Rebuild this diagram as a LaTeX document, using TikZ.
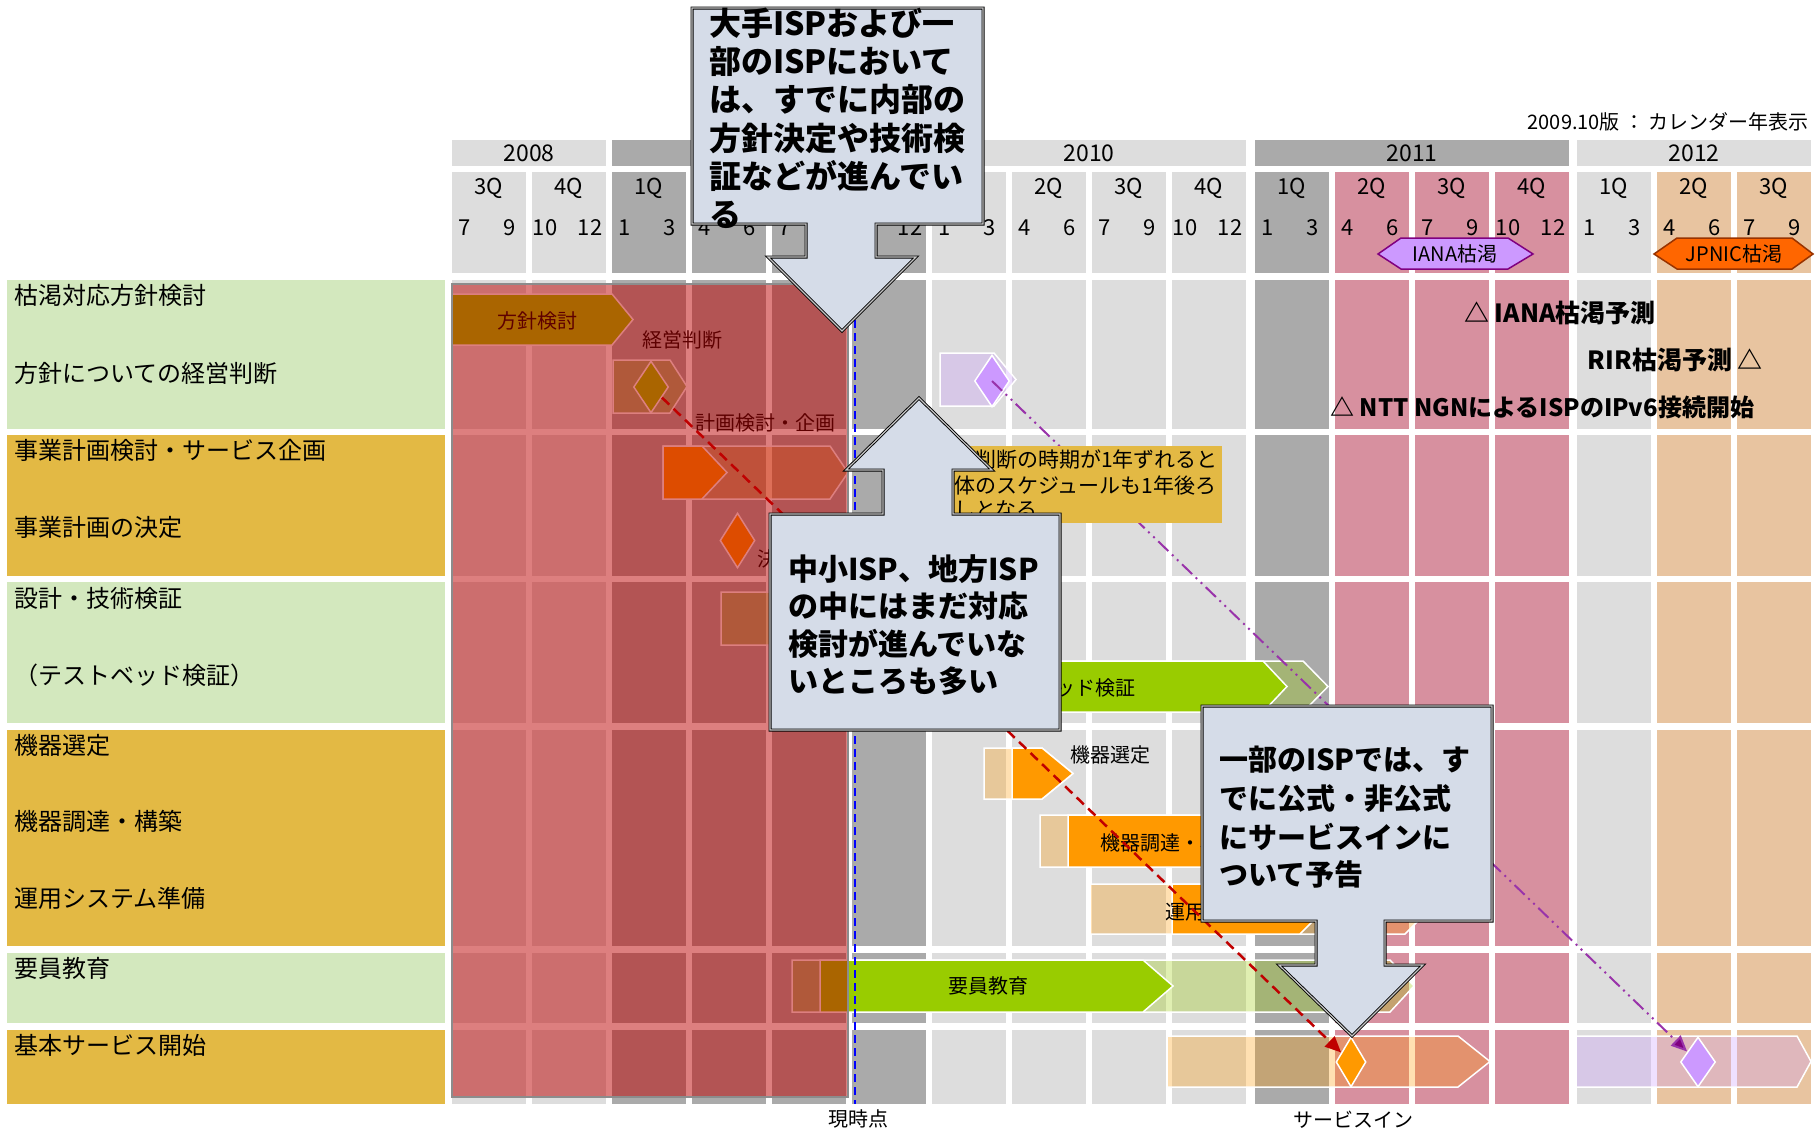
\documentclass[tikz,border=0pt]{standalone}
\usepackage{fontspec}
\setmainfont{Noto Sans CJK JP}
\usetikzlibrary{shapes.geometric,arrows.meta}
\definecolor{lg}{HTML}{DDDDDD}
\definecolor{dg}{HTML}{AAAAAA}
\definecolor{pk}{HTML}{D7909F}
\definecolor{pc}{HTML}{E8C4A0}
\definecolor{lblg}{HTML}{D3E8BE}
\definecolor{lbla}{HTML}{E3B944}
\definecolor{gr}{HTML}{99CC00}
\definecolor{orn}{HTML}{FF9900}
\definecolor{pur}{HTML}{CC99FF}
\definecolor{ovc}{RGB}{188,0,0}
\definecolor{cfill}{HTML}{D5DCE8}
\definecolor{redl}{HTML}{C00000}
\definecolor{purl}{HTML}{9933AA}
\definecolor{purd}{HTML}{800080}
\definecolor{jpo}{HTML}{FF6600}
\definecolor{jpb}{HTML}{993300}
\definecolor{bluel}{HTML}{0000FF}
\newcommand\bararrow[6]{\path[#6] (#1,#4) -- (#2,#4) -- (#3,{(#4+#5)/2}) -- (#2,#5) -- (#1,#5) -- cycle;}
\begin{document}
\begin{tikzpicture}[x=1pt,y=-1pt,
  hdr/.style={font=\fontsize{22}{26}\selectfont, inner sep=0pt},
  yr/.style={font=\fontsize{23}{26}\selectfont, inner sep=0pt},
  rowlbl/.style={font=\fontsize{24}{28}\selectfont, inner sep=0pt, anchor=west},
  barlbl/.style={font=\fontsize{20}{24}\selectfont, inner sep=0pt},
  notef/.style={font=\fontsize{21}{24}\selectfont, inner sep=0pt, anchor=west},
  trilbl/.style={font=\fontsize{25}{28}\selectfont\bfseries, inner sep=0pt},
  calA/.style={font=\fontsize{32}{38}\selectfont\bfseries, inner sep=0pt, anchor=west},
  calB/.style={font=\fontsize{30}{36}\selectfont\bfseries, inner sep=0pt, anchor=west},
  calC/.style={font=\fontsize{29}{35}\selectfont\bfseries, inner sep=0pt, anchor=west},
  solidg/.style={fill=gr, draw=white, line width=1.5pt},
  solido/.style={fill=orn, draw=white, line width=1.5pt},
  plang/.style={fill=gr, fill opacity=0.3, draw=white, line width=1.5pt},
  plano/.style={fill=orn, fill opacity=0.3, draw=white, line width=1.5pt},
  planp/.style={fill=pur, fill opacity=0.3, draw=white, line width=1.5pt},
  dia/.style={diamond, inner sep=0pt, draw=white, line width=1.5pt},
  calloutbox/.style={fill=cfill, draw=black, line width=0.9pt, double=gray!45, double distance=1.2pt},
]
\useasboundingbox (0,0) rectangle (1817,1130);
\fill[white] (0,0) rectangle (1817,1130);

% ---- year header
\fill[lg] (452,140) rectangle (606,166);
\fill[dg] (612,140) rectangle (926,166);
\fill[lg] (932,140) rectangle (1246,166);
\fill[dg] (1255,140) rectangle (1569,166);
\fill[lg] (1577,140) rectangle (1811,166);
\node[yr] (y08) at (529,153) {2008};
\node[yr] (y10) at (1089,153) {2010};
\node[yr] (y11) at (1412,153) {2011};
\node[yr] (y12) at (1694,153) {2012};

% ---- quarter columns and body grid
\foreach \xx/\cc in {452/lg, 532/lg, 612/dg, 692/dg, 772/dg, 852/dg, 932/lg, 1012/lg, 1092/lg, 1172/lg, 1255/dg, 1335/pk, 1415/pk, 1495/pk, 1577/lg, 1657/pc, 1737/pc} {
  \fill[fill=\cc] (\xx,172) rectangle (\xx+74,273);
  \foreach \ya/\yb in {280/429,435/576,582/723,730/946,953/1023,1030/1104}
    \fill[fill=\cc] (\xx,\ya) rectangle (\xx+74,\yb);
}
% quarter names (those not hidden by the top callout)
\foreach \xx/\qq in {452/3Q, 532/4Q, 612/1Q, 932/1Q, 1012/2Q, 1092/3Q, 1172/4Q, 1255/1Q, 1335/2Q, 1415/3Q, 1495/4Q, 1577/1Q, 1657/2Q, 1737/3Q}
  \node[hdr] (q\xx) at (\xx+37,188) {\qq};
% first month of each quarter
\foreach \xx/\ma in {452/7, 532/10, 612/1, 692/4, 772/7, 932/1, 1012/4, 1092/7, 1172/10, 1255/1, 1335/4, 1415/7, 1495/10, 1577/1, 1657/4, 1737/7}
  \node[hdr] (ma\xx) at (\xx+13,228) {\ma};
% last month of each quarter
\foreach \xx/\mb in {452/9, 532/12, 612/3, 692/6, 852/12, 932/3, 1012/6, 1092/9, 1172/12, 1255/3, 1335/6, 1415/9, 1495/12, 1577/3, 1657/6, 1737/9}
  \node[hdr] (mb\xx) at (\xx+58,228) {\mb};

% ---- row label boxes
\fill[lblg] (7,280) rectangle (445,429);
\fill[lbla] (7,435) rectangle (445,576);
\fill[lblg] (7,582) rectangle (445,723);
\fill[lbla] (7,730) rectangle (445,946);
\fill[lblg] (7,953) rectangle (445,1023);
\fill[lbla] (7,1030) rectangle (445,1104);
\foreach \yy/\tt [count=\k] in {295/枯渇対応方針検討, 373/方針についての経営判断, 450/事業計画検討・サービス企画, 527/事業計画の決定, 598/設計・技術検証, 675/（テストベッド検証）, 745/機器選定, 821/機器調達・構築, 898/運用システム準備, 968/要員教育, 1045/基本サービス開始}
  \node[rowlbl] (rl\k) at (14,\yy) {\tt};

% ---- bars
% row 1
\bararrow{452}{612}{633}{294}{345}{solidg}
\bararrow{613}{670}{687}{360}{413}{plang}
\node[dia, fill=gr, minimum width=35pt, minimum height=52pt] (kd) at (651,387) {};
\bararrow{940}{994}{1016}{353}{406}{planp}
\node[dia, fill=pur, minimum width=35pt, minimum height=52pt] (pd1) at (992,381) {};
% row 2
\bararrow{663}{830}{848}{446}{499}{plano}
\bararrow{663}{702}{727}{446}{499}{solido}
\node[dia, fill=orn, minimum width=35pt, minimum height=55pt] (dd) at (737.5,540.5) {};
% row 3
\bararrow{721}{1000}{1020}{592}{645}{plang}
\bararrow{1000}{1303}{1328}{661}{712}{plang}
\bararrow{849}{1263}{1287}{661}{712}{solidg}
% row 4
\bararrow{984}{1042}{1073}{748}{799}{plano}
\bararrow{1012}{1042}{1073}{748}{799}{solido}
\bararrow{1040}{1330}{1355}{815}{867}{plano}
\bararrow{1068}{1240}{1265}{815}{867}{solido}
\bararrow{1090}{1405}{1430}{884}{934}{plano}
\bararrow{1172}{1300}{1325}{884}{934}{solido}
% row 5
\bararrow{792}{1390}{1414}{960}{1012}{plang}
\bararrow{820}{1143}{1173}{960}{1012}{solidg}
% row 6
\bararrow{1167}{1458}{1490}{1036}{1087}{plano}
\node[dia, fill=orn, minimum width=30pt, minimum height=50pt] (od) at (1351,1062) {};
\bararrow{1576}{1797}{1811}{1036}{1087}{planp}
\node[dia, fill=pur, minimum width=35pt, minimum height=50pt] (pd2) at (1698,1062) {};

% labels under the past overlay
\node[barlbl] (l1) at (537,321) {方針検討};
\node[barlbl] (l2) at (682,340) {経営判断};
\node[barlbl] (l3) at (765,423) {計画検討・企画};
\node[barlbl, anchor=west] (l4) at (757,559) {決定};

% ---- past overlay
\path[fill=ovc, fill opacity=0.5, draw=black!45, line width=1.5pt] (452,284) rectangle (848,1097);

% ---- current time line
\coordinate (nowtop) at (855,281);
\coordinate (nowbot) at (855,1104);
\draw[bluel, line width=2pt, dash pattern=on 8pt off 5pt] (nowtop) -- (nowbot);
\node[barlbl] (nowlbl) at (858,1119) {現時点};
\node[barlbl] (svclbl) at (1353,1120) {サービスイン};

% labels on bars
\node[barlbl, anchor=east] (l5) at (1136,688) {テストベッド検証};
\node[barlbl] (l6) at (1110,755) {機器選定};
\node[barlbl, anchor=west] (l7) at (1100,843) {機器調達・構築};
\node[barlbl, anchor=west] (l8) at (1165,912) {運用システム準備};
\node[barlbl] (l9) at (988,986) {要員教育};

% ---- connectors
\draw[redl, line width=2.5pt, dash pattern=on 10pt off 6pt, -{Triangle[length=16pt,width=14pt]}] (kd) -- (od);
\draw[purl, line width=2pt, dash pattern=on 14pt off 5pt on 2pt off 5pt on 2pt off 5pt, -{Triangle[length=16pt,width=14pt,fill=purd]}] (pd1.center) -- (pd2);

% ---- header markers
\path[fill=pur, draw=purd, line width=1.5pt] (1378,254) -- (1401,238) -- (1508,238) -- (1533,254) -- (1508,269) -- (1401,269) -- cycle;
\node[barlbl] (iana) at (1455,254) {IANA枯渇};
\path[fill=jpo, draw=jpb, line width=1.5pt] (1654,254) -- (1677,238) -- (1792,238) -- (1813,254) -- (1792,269) -- (1677,269) -- cycle;
\node[barlbl] (jpnic) at (1734,254) {JPNIC枯渇};
\node[barlbl, anchor=east] (ver) at (1809,122) {2009.10版 ： カレンダー年表示};

% ---- forecast texts
\node[trilbl, anchor=west] (t1) at (1464,313) {△ IANA枯渇予測};
\node[trilbl, anchor=east] (t2) at (1763,360) {RIR枯渇予測 △};
\node[trilbl, anchor=west, font=\fontsize{24}{28}\selectfont\bfseries] (t3) at (1330,407) {△ NTT NGNによるISPのIPv6接続開始};

% ---- note box
\fill[lbla] (928,446) rectangle (1222,523);
\node[notef] (n1) at (933,460) {経営判断の時期が1年ずれると};
\node[notef] (n2) at (933,486) {全体のスケジュールも1年後ろ};
\node[notef] (n3) at (933,510) {倒しとなる};

% ---- callout 1 (down arrow)
\path[calloutbox] (692,8) -- (983,8) -- (983,224) -- (876,224) -- (876,257) -- (916,257) -- (842,331) -- (768,257) -- (806,257) -- (806,224) -- (692,224) -- cycle;
\foreach \tt [count=\k] in {大手ISPおよび一, 部のISPにおいて, は、すでに内部の, 方針決定や技術検, 証などが進んでい, る}
  \node[calA] (ca\k) at (709,{23+38.3*(\k-1)}) {\tt};

% ---- callout 2 (up arrow)
\path[calloutbox] (770,730) -- (770,514) -- (883,514) -- (883,470) -- (846,470) -- (919,398) -- (992,470) -- (953,470) -- (953,514) -- (1060,514) -- (1060,730) -- cycle;
\foreach \tt [count=\k] in {中小ISP、地方ISP, の中にはまだ対応, 検討が進んでいな, いところも多い}
  \node[calB] (cb\k) at (788,{569+37.5*(\k-1)}) {\tt};

% ---- callout 3 (down arrow)
\path[calloutbox] (1202,706) -- (1492,706) -- (1492,921) -- (1385,921) -- (1385,965) -- (1423,965) -- (1352,1036) -- (1279,965) -- (1316,965) -- (1316,921) -- (1202,921) -- cycle;
\foreach \tt [count=\k] in {一部のISPでは、す, でに公式・非公式, にサービスインに, ついて予告}
  \node[calC] (cc\k) at (1219,{760+38.3*(\k-1)}) {\tt};
\end{tikzpicture}
\end{document}
